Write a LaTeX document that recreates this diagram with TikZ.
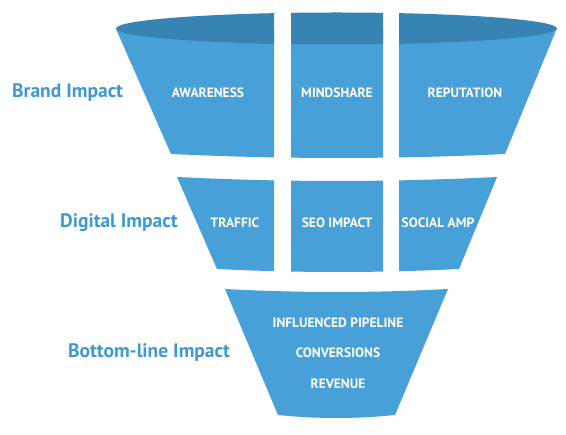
\documentclass[tikz,border=0pt]{standalone}
\usepackage{fontspec}
\setmainfont{PT Sans}
\definecolor{fblue}{HTML}{47A0D8}
\definecolor{fdark}{HTML}{3783B3}
\definecolor{lblue}{HTML}{3F98D4}
\begin{document}
\begin{tikzpicture}[x=1pt,y=-1pt,
  seg/.style={white,font=\bfseries\fontsize{13.5}{15}\selectfont,inner sep=0pt},
  lbl/.style={lblue,font=\bfseries\fontsize{19.5}{22}\selectfont,inner sep=0pt,anchor=west}]
\useasboundingbox (0,0) rectangle (566,435);
% ---- top tier
\foreach \a/\b in {100/274,291/383,399/570}{
  \begin{scope}
    \clip (\a,0) rectangle (\b,200);
    \fill[fblue] (116,29) -- (171,154) .. controls (283,159.3) and (393,159.3) .. (505,154) -- (557,28) -- cycle;
    \fill[fdark] (336.5,28.5) ellipse [x radius=220.5pt, y radius=16pt];
  \end{scope}
}
% ---- middle tier
\foreach \a/\b in {150/274,291/383,399/570}{
  \begin{scope}
    \clip (\a,160) rectangle (\b,285);
    \fill[fblue] (177,177) .. controls (284,182.3) and (390,182.3) .. (497,177) -- (459,269) .. controls (378,273) and (298,273) .. (217,269) -- cycle;
  \end{scope}
}
% ---- bottom tier
\fill[fblue] (225,289) .. controls (299,293) and (374,293) .. (448,289) -- (395,415) .. controls (356,419) and (317,419) .. (278,415) -- cycle;
% ---- texts
\node[seg] (aw) at (208,93) {AWARENESS};
\node[seg] (mi) at (337,93) {MINDSHARE};
\node[seg] (re) at (465,93) {REPUTATION};
\node[seg] (tr) at (235,223) {TRAFFIC};
\node[seg] (se) at (337,223) {SEO IMPACT};
\node[seg] (so) at (438,223) {SOCIAL AMP};
\node[seg] (ip) at (338,323) {INFLUENCED PIPELINE};
\node[seg] (cv) at (338,353) {CONVERSIONS};
\node[seg] (rv) at (338,384) {REVENUE};
\node[lbl] (l1) at (12,93) {Brand Impact};
\node[lbl] (l2) at (60,223) {Digital Impact};
\node[lbl] (l3) at (68,353) {Bottom-line Impact};
\end{tikzpicture}
\end{document}
